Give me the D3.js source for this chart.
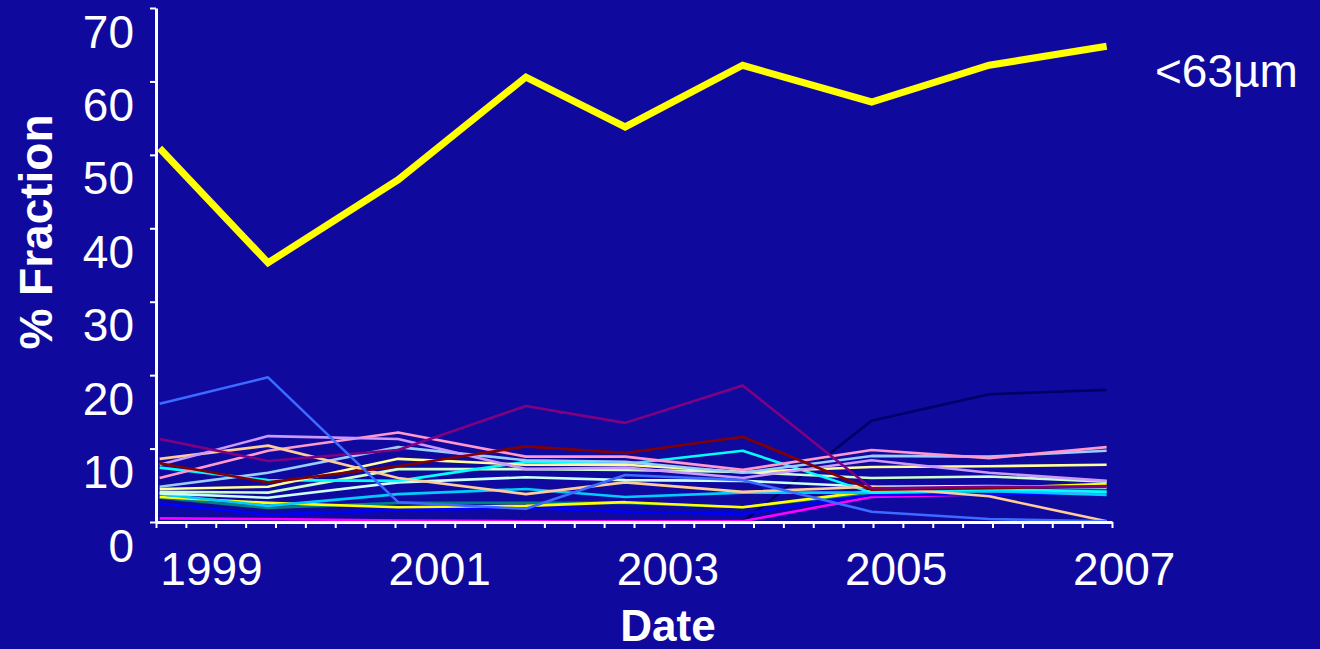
<!DOCTYPE html>
<html>
<head>
<meta charset="utf-8">
<script src="https://cdn.jsdelivr.net/npm/d3@7"></script>
<style>
  html, body { margin: 0; padding: 0; background: #10099e; }
  svg { display: block; font-family: "Liberation Sans", Arial, sans-serif; }
</style>
</head>
<body>
<div id="chart"></div>
<script>
// sample dates (decimal years) and size-fraction series, % of sample
const sampleYears = [1998.55, 1999.50, 2000.64, 2001.76, 2002.63, 2003.66, 2004.79, 2005.82, 2006.85];
const yearLabels = [1999, 2001, 2003, 2005, 2007];
const yTicks = [0, 10, 20, 30, 40, 50, 60, 70];

const fine63 = [50.9, 35.3, 46.6, 60.6, 53.8, 62.2, 57.2, 62.2, 64.8];
const royalBlue = [16.1, 19.7, 2.7, 1.8, 6.4, 5.7, 1.4, 0.4, 0.1];
const purple = [11.3, 8.3, 9.8, 15.8, 13.5, 18.6, 4.6, 4.8, 4.8];
const maroon = [8.0, 5.4, 7.6, 10.3, 9.4, 11.6, 4.4, 4.6, 4.9];
const lavender = [7.8, 11.7, 11.3, 7.2, 7.4, 6.0, 8.4, 6.7, 5.6];
const peach = [8.6, 10.4, 6.0, 3.8, 5.4, 4.1, 4.8, 3.5, 0.1];
const pink = [6.0, 9.7, 12.2, 8.9, 8.9, 7.1, 9.8, 8.7, 10.2];
const lightBlue = [4.8, 6.7, 10.2, 8.4, 8.2, 6.7, 9.0, 8.9, 9.7];
const lightYellow = [4.5, 4.8, 8.6, 7.8, 7.8, 6.8, 7.5, 7.6, 7.8];
const cyan = [7.4, 5.7, 5.6, 8.2, 7.9, 9.7, 4.0, 4.5, 4.1];
const paleGreen = [4.1, 4.0, 7.2, 7.2, 7.1, 6.8, 6.0, 6.2, 5.5];
const paleCyan = [3.9, 3.3, 5.4, 6.1, 5.7, 5.6, 4.8, 4.9, 4.7];
const skyBlue = [3.8, 2.2, 3.8, 4.5, 3.4, 4.0, 4.0, 4.2, 3.7];
const yellow = [3.4, 2.6, 2.0, 2.2, 2.7, 2.0, 4.2, 4.6, 5.2];
const teal = [3.3, 1.9, 2.6, 2.6, 2.6, 2.0, 4.0, 4.2, 4.3];
const blue = [2.5, 1.0, 1.6, 1.9, 1.4, 1.1, 3.7, 3.8, 3.7];
const magenta = [0.5, 0.4, 0.2, 0.1, 0.1, 0.1, 3.4, 3.8, 4.0];
const navy = [0, 0, 0, 0, 0, 0, 13.8, 17.4, 18.0];

const seriesList = [
  {values: navy, color: "#000066"},
  {values: magenta, color: "#ff00ff"},
  {values: blue, color: "#0000ff"},
  {values: teal, color: "#008080"},
  {values: yellow, color: "#ffff00"},
  {values: skyBlue, color: "#00ccff"},
  {values: paleCyan, color: "#ccffff"},
  {values: paleGreen, color: "#ccffcc"},
  {values: cyan, color: "#00ffff"},
  {values: lightYellow, color: "#ffff99"},
  {values: lightBlue, color: "#99ccff"},
  {values: pink, color: "#ff99cc"},
  {values: peach, color: "#ffcc99"},
  {values: lavender, color: "#cc99ff"},
  {values: maroon, color: "#800000"},
  {values: purple, color: "#800080"},
  {values: royalBlue, color: "#3b6cff"},
];

const W = 1320, H = 649;
const plot = {left: 156, right: 1112, top: 8, bottom: 522};

const svg = d3.select("#chart")
  .append("svg")
    .attr("width", W)
    .attr("height", H);

const x = d3.scaleLinear()
  .domain([1998.518, 2006.897])
  .range([plot.left, plot.right]);
const y = d3.scaleLinear()
  .domain([0, 70])
  .range([plot.bottom, plot.top]);

const line = d3.line()
  .x((d, i) => x(sampleYears[i]))
  .y(d => y(d));

// thin fraction lines
svg.selectAll("path.frac")
  .data(seriesList)
  .enter()
  .append("path")
    .attr("class", "frac")
    .attr("d", d => line(d.values))
    .attr("fill", "none")
    .attr("stroke", d => d.color)
    .attr("stroke-width", 2.6)
    .attr("stroke-linejoin", "round");

// <63um line on top
svg.append("path")
  .attr("d", line(fine63))
  .attr("fill", "none")
  .attr("stroke", "#ffff00")
  .attr("stroke-width", 7)
  .attr("stroke-linejoin", "miter");

// x axis: minor ticks split the axis in 32 parts
const [d0, d1] = x.domain();
const minorTicks = d3.range(0, 33).map(k => d0 + k * (d1 - d0) / 32);
const xAxis = svg.append("g")
  .attr("transform", `translate(0,${plot.bottom})`)
  .call(d3.axisBottom(x).tickValues(minorTicks).tickSizeInner(6).tickSizeOuter(0).tickFormat(""));
xAxis.select(".domain").attr("stroke", "white").attr("stroke-width", 3);
xAxis.selectAll(".tick line").attr("stroke", "white").attr("stroke-width", 2);

const xLabels = svg.append("g")
  .attr("transform", `translate(0,${plot.bottom})`)
  .call(d3.axisBottom(x).tickValues(yearLabels).tickSize(0).tickFormat(d3.format("d")));
xLabels.select(".domain").remove();
xLabels.selectAll("text")
  .attr("y", 63)
  .attr("dy", 0)
  .attr("fill", "white")
  .style("font-size", "46px")
  .style("font-family", "Liberation Sans, Arial, sans-serif");

// y axis
const yAxis = svg.append("g")
  .attr("transform", `translate(${plot.left},0)`)
  .call(d3.axisLeft(y).tickValues(yTicks).tickSizeInner(6).tickSizeOuter(0));
yAxis.select(".domain").attr("stroke", "white").attr("stroke-width", 3);
yAxis.selectAll(".tick line").attr("stroke", "white").attr("stroke-width", 2);
yAxis.selectAll("text")
  .attr("x", -22)
  .attr("dy", 0)
  .attr("y", 39)
  .attr("fill", "white")
  .style("font-size", "46px")
  .style("font-family", "Liberation Sans, Arial, sans-serif");

// titles
svg.append("text")
  .attr("transform", "translate(52,232) rotate(-90)")
  .attr("text-anchor", "middle")
  .attr("fill", "white")
  .style("font-size", "46px")
  .style("font-weight", "bold")
  .text("% Fraction");

svg.append("text")
  .attr("x", 668)
  .attr("y", 641)
  .attr("text-anchor", "middle")
  .attr("fill", "white")
  .style("font-size", "44px")
  .style("font-weight", "bold")
  .text("Date");

svg.append("text")
  .attr("x", 1155)
  .attr("y", 87)
  .attr("fill", "white")
  .style("font-size", "46px")
  .text("<63µm");
</script>
</body>
</html>
